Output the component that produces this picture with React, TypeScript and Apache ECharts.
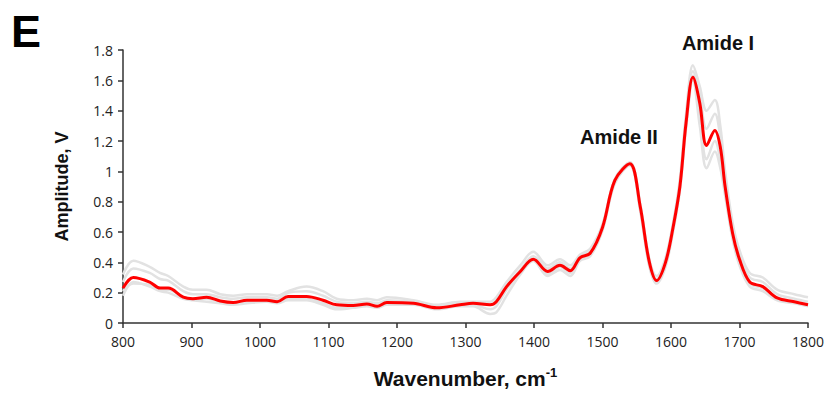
import React, { useEffect, useRef } from "react";
import * as echarts from "echarts";

const wavenumbers = [800, 815, 839, 854, 866, 888, 902, 922, 942, 961, 981, 1010, 1025, 1041, 1068, 1092, 1112, 1136, 1156, 1171, 1185, 1224, 1258, 1292, 1311, 1336, 1345, 1360, 1380, 1399, 1420, 1438, 1453, 1467, 1482, 1500, 1518, 1540, 1555, 1568, 1579, 1592, 1603, 1613, 1622, 1632, 1642, 1652, 1664, 1672, 1679, 1690, 1700, 1715, 1734, 1755, 1780, 1800];

const meanSpectrum = [0.23, 0.30, 0.27, 0.23, 0.23, 0.17, 0.16, 0.17, 0.145, 0.135, 0.15, 0.15, 0.14, 0.175, 0.175, 0.15, 0.12, 0.115, 0.125, 0.11, 0.135, 0.13, 0.10, 0.12, 0.13, 0.12, 0.14, 0.24, 0.34, 0.42, 0.34, 0.38, 0.345, 0.43, 0.46, 0.63, 0.94, 1.05, 0.77, 0.41, 0.28, 0.40, 0.63, 0.90, 1.32, 1.62, 1.45, 1.17, 1.27, 1.16, 0.90, 0.59, 0.42, 0.27, 0.24, 0.165, 0.14, 0.12];

const replicateA = [0.32, 0.41, 0.37, 0.33, 0.31, 0.24, 0.22, 0.22, 0.19, 0.18, 0.19, 0.19, 0.18, 0.21, 0.24, 0.21, 0.16, 0.15, 0.16, 0.15, 0.17, 0.15, 0.12, 0.14, 0.14, 0.14, 0.17, 0.27, 0.38, 0.47, 0.38, 0.42, 0.38, 0.45, 0.49, 0.65, 0.95, 1.06, 0.79, 0.43, 0.31, 0.43, 0.66, 0.95, 1.38, 1.70, 1.56, 1.40, 1.47, 1.30, 1.00, 0.66, 0.48, 0.33, 0.30, 0.22, 0.19, 0.17];

const replicateB = [0.18, 0.27, 0.24, 0.21, 0.20, 0.16, 0.15, 0.14, 0.13, 0.12, 0.13, 0.14, 0.13, 0.15, 0.15, 0.12, 0.09, 0.10, 0.11, 0.10, 0.12, 0.12, 0.09, 0.11, 0.11, 0.06, 0.07, 0.18, 0.32, 0.41, 0.31, 0.35, 0.31, 0.41, 0.44, 0.61, 0.92, 1.04, 0.74, 0.38, 0.26, 0.37, 0.60, 0.87, 1.28, 1.60, 1.30, 1.02, 1.13, 1.02, 0.84, 0.55, 0.38, 0.24, 0.21, 0.15, 0.13, 0.11];

const replicateC = [0.27, 0.36, 0.33, 0.29, 0.28, 0.21, 0.19, 0.19, 0.17, 0.16, 0.17, 0.17, 0.16, 0.20, 0.21, 0.18, 0.14, 0.13, 0.14, 0.13, 0.15, 0.14, 0.11, 0.13, 0.13, 0.12, 0.15, 0.24, 0.35, 0.44, 0.36, 0.40, 0.36, 0.44, 0.47, 0.64, 0.94, 1.05, 0.78, 0.42, 0.29, 0.41, 0.64, 0.92, 1.35, 1.66, 1.50, 1.28, 1.38, 1.22, 0.95, 0.62, 0.45, 0.30, 0.27, 0.19, 0.16, 0.14];

const replicateD = [0.21, 0.26, 0.25, 0.22, 0.22, 0.17, 0.16, 0.16, 0.14, 0.13, 0.14, 0.15, 0.14, 0.16, 0.16, 0.13, 0.10, 0.11, 0.12, 0.11, 0.13, 0.13, 0.10, 0.12, 0.12, 0.09, 0.11, 0.22, 0.33, 0.41, 0.32, 0.37, 0.33, 0.42, 0.45, 0.62, 0.93, 1.04, 0.75, 0.39, 0.27, 0.39, 0.62, 0.89, 1.30, 1.63, 1.36, 1.08, 1.20, 1.07, 0.87, 0.57, 0.40, 0.26, 0.23, 0.16, 0.135, 0.115];

const replicates = [replicateA, replicateB, replicateC, replicateD];

const toPairs = (ys: number[]) => wavenumbers.map((x, i) => [x, ys[i]]);

export default function App() {
  const ref = useRef<HTMLDivElement>(null);
  useEffect(() => {
    if (!ref.current) return;
    const chart = echarts.init(ref.current, undefined, { renderer: "svg" });
    const tickFont = { fontFamily: "Open Sans", fontSize: 14, color: "#222" };
    const grey = replicates.map((r) => ({
      type: "line",
      data: toPairs(r),
      smooth: 0.35,
      showSymbol: false,
      lineStyle: { color: "#e2e2e2", width: 2.5 },
      z: 1,
    }));
    chart.setOption({
      animation: false,
      grid: { left: 123, right: 19, top: 50, bottom: 71 },
      xAxis: {
        type: "value",
        min: 800,
        max: 1800,
        interval: 100,
        axisLine: { show: true, lineStyle: { color: "#333", width: 1.5 } },
        axisTick: { show: true, length: 5, lineStyle: { color: "#333", width: 1.5 } },
        axisLabel: { ...tickFont, margin: 11, formatter: (v: number) => String(v) },
        splitLine: { show: false },
        name: "Wavenumber, cm{sup|-1}",
        nameLocation: "middle",
        nameGap: 43,
        nameTextStyle: {
          fontFamily: "Liberation Sans",
          fontWeight: "bold",
          fontSize: 21,
          color: "#111",
          rich: {
            sup: { fontFamily: "Liberation Sans", fontWeight: "bold", fontSize: 13, verticalAlign: "top", padding: [0, 0, 11, 0], color: "#111" },
          },
        },
      },
      yAxis: {
        type: "value",
        min: 0,
        max: 1.8,
        interval: 0.2,
        axisLine: { show: true, lineStyle: { color: "#333", width: 1.5 } },
        axisTick: { show: true, length: 5, lineStyle: { color: "#333", width: 1.5 } },
        axisLabel: {
          ...tickFont,
          margin: 10,
          formatter: (v: number) => String(Math.round(v * 10) / 10),
        },
        splitLine: { show: false },
        name: "Amplitude, V",
        nameLocation: "middle",
        nameGap: 52,
        nameTextStyle: { fontFamily: "Liberation Sans", fontWeight: "bold", fontSize: 18, color: "#111" },
      },
      graphic: [
        { type: "text", left: 11, top: 9, style: { text: "E", font: "bold 45px 'Liberation Sans'", fill: "#000" } },
        { type: "text", x: 718, y: 43, style: { text: "Amide I", font: "bold 20px 'Liberation Sans'", fill: "#111", textAlign: "center", textVerticalAlign: "middle" } },
        { type: "text", x: 619, y: 137, style: { text: "Amide II", font: "bold 20px 'Liberation Sans'", fill: "#111", textAlign: "center", textVerticalAlign: "middle" } },
      ],
      series: [
        ...grey,
        {
          type: "line",
          data: toPairs(meanSpectrum),
          smooth: 0.35,
          showSymbol: false,
          lineStyle: { color: "#ff0000", width: 3 },
          z: 3,
        },
      ],
    });
    return () => chart.dispose();
  }, []);
  return <div ref={ref} style={{ width: 827, height: 394, position: "absolute", left: 0, top: 0 }} />;
}
